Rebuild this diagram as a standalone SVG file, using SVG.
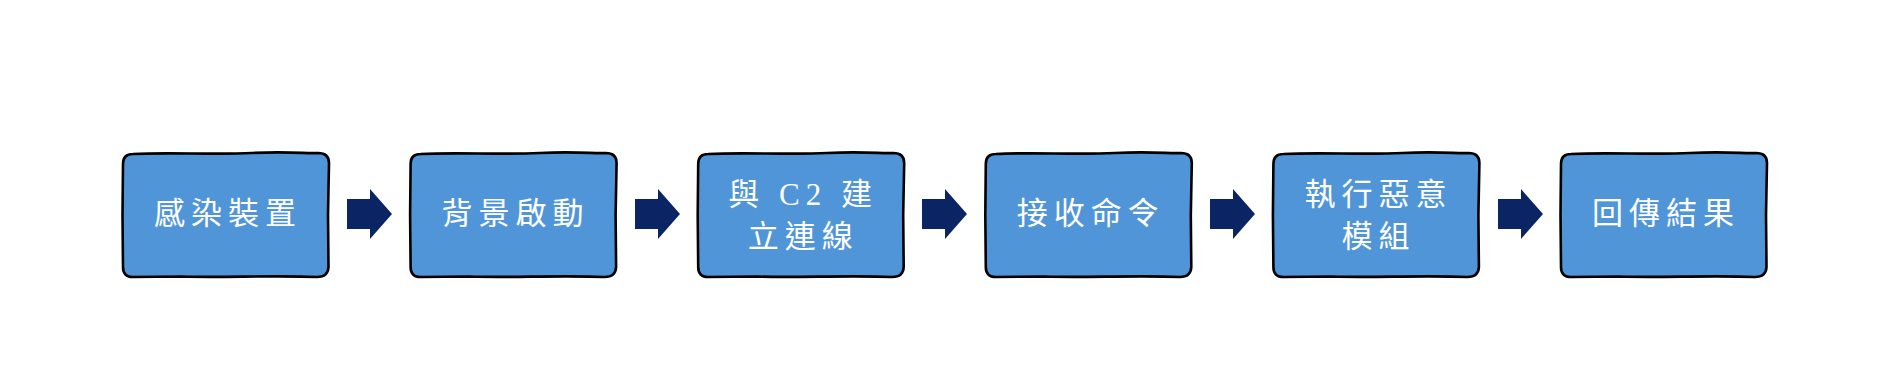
<svg xmlns="http://www.w3.org/2000/svg" width="1882" height="379" viewBox="0 0 1882 379">
<style>
.bx{fill:#5195d9;stroke:#000;stroke-width:2.6;stroke-linejoin:round}
.t{fill:#fff;font-family:"Liberation Serif","Noto Sans CJK TC",serif;font-size:31px;letter-spacing:6px;text-anchor:middle;dominant-baseline:central}
.ar{fill:#0b2463}
</style>
<defs>
<path id="box" d="M 11 1 C 50 -1 90 2 130 0 S 185 1 196 0 Q 207 0 207 10 L 206 62 L 206.5 114 Q 206 124 195 124 C 150 122 100 125 60 123.5 L 11 124 Q 1 124 1 114 L 0.5 62 L 1 11 Q 1 1 11 1 Z"/>
<path id="arrow" d="M 0 0 H 23 V -10 L 45 15 L 23 40 V 30 H 0 Z"/>
</defs>
<rect width="1882" height="379" fill="#fff"/>
<g id="connectors">
<use href="#arrow" class="ar" transform="translate(347,199)"/>
<use href="#arrow" class="ar" transform="translate(635,199)"/>
<use href="#arrow" class="ar" transform="translate(922,199)"/>
<use href="#arrow" class="ar" transform="translate(1210,199)"/>
<use href="#arrow" class="ar" transform="translate(1498,199)"/>
</g>
<g id="n1"><use href="#box" class="bx" transform="translate(122,153)"/><text class="t" x="228" y="213">感染裝置</text></g>
<g id="n2"><use href="#box" class="bx" transform="translate(409.6,153)"/><text class="t" x="515.6" y="213">背景啟動</text></g>
<g id="n3"><use href="#box" class="bx" transform="translate(697.2,153)"/><text class="t" x="803.2" y="194">與 C2 建</text><text class="t" x="803.2" y="236">立連線</text></g>
<g id="n4"><use href="#box" class="bx" transform="translate(984.8,153)"/><text class="t" x="1090.8" y="213">接收命令</text></g>
<g id="n5"><use href="#box" class="bx" transform="translate(1272.4,153)"/><text class="t" x="1378.4" y="194">執行惡意</text><text class="t" x="1378.4" y="236">模組</text></g>
<g id="n6"><use href="#box" class="bx" transform="translate(1560,153)"/><text class="t" x="1666" y="213">回傳結果</text></g>
</svg>
